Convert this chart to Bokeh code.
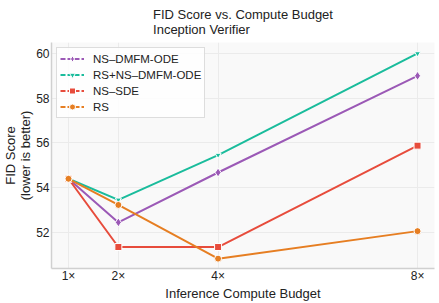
from bokeh.plotting import figure
from bokeh.models import Title, Legend, LegendItem, FixedTicker, Range1d, ColumnDataSource
from bokeh.embed import file_html
from bokeh.resources import INLINE

budgets = [1, 2, 4, 8]
tick_labels = ["1×", "2×", "4×", "8×"]
y_ticks = [52, 54, 56, 58, 60]

title_text = "FID Score vs. Compute Budget"
subtitle_text = "Inception Verifier"
series_names = ["NS–DMFM-ODE", "RS+NS–DMFM-ODE", "NS–SDE", "RS"]
ns_dmfm_ode = [54.4, 52.45, 54.68, 59.0]
rs_ns_dmfm_ode = [54.4, 53.46, 55.46, 60.0]
ns_sde = [54.4, 51.35, 51.35, 55.88]
rs = [54.4, 53.23, 50.83, 52.06]

series_values = [ns_dmfm_ode, rs_ns_dmfm_ode, ns_sde, rs]
colors = ["#9b59b6", "#1abc9c", "#e74c3c", "#e67e22"]
markers = ["diamond", "inverted_triangle", "square", "circle"]
sizes = [9, 6, 7, 7]

FONT = "Liberation Sans"

p = figure(width=439, height=303, output_backend="svg", toolbar_location=None,
           x_range=Range1d(0.659, 8.34), y_range=Range1d(50.39, 60.49),
           min_border_left=51, min_border_right=5, min_border_top=42, min_border_bottom=35)

p.add_layout(Title(text=title_text + "\n" + subtitle_text, align="center",
                   vertical_align="top", text_font=FONT, text_font_size="13px",
                   text_font_style="normal", text_color="#222222",
                   text_line_height=1.0, standoff=8), "above")

p.background_fill_color = "#f9f9f9"
p.border_fill_color = "white"
p.outline_line_color = None

p.xgrid.grid_line_color = "#ebebeb"
p.ygrid.grid_line_color = "#ebebeb"
p.xgrid.grid_line_width = 1
p.ygrid.grid_line_width = 1

p.xaxis.ticker = FixedTicker(ticks=budgets)
p.xaxis.major_label_overrides = {b: t for b, t in zip(budgets, tick_labels)}
p.yaxis.ticker = FixedTicker(ticks=y_ticks)

for ax in (p.xaxis[0], p.yaxis[0]):
    ax.axis_line_color = "#d0d0d0"
    ax.axis_line_width = 1.5
    ax.major_tick_line_color = None
    ax.minor_tick_line_color = None
    ax.major_tick_out = 0
    ax.major_tick_in = 0
    ax.minor_tick_out = 0
    ax.minor_tick_in = 0
    ax.major_label_text_font = FONT
    ax.major_label_text_font_size = "12px"
    ax.major_label_text_color = "#222222"
    ax.axis_label_text_font = FONT
    ax.axis_label_text_font_size = "13px"
    ax.axis_label_text_font_style = "normal"
    ax.axis_label_text_color = "#222222"

p.xaxis.axis_label = "Inference Compute Budget"
p.yaxis.axis_label = "FID Score\n(lower is better)"
p.yaxis.axis_label_text_line_height = 1.0
p.xaxis.major_label_standoff = 0
p.xaxis.axis_label_standoff = 0
p.yaxis.major_label_standoff = 2
p.yaxis.axis_label_standoff = 0

items = []
for name, vals, c, m, s in zip(series_names, series_values, colors, markers, sizes):
    src = ColumnDataSource(dict(x=budgets, y=vals))
    p.line("x", "y", source=src, line_color=c, line_width=2)
    p.scatter("x", "y", source=src, marker=m, size=s, fill_color=c,
              line_color="white", line_width=1)
    # legend-only glyphs, placed outside the visible range
    off = ColumnDataSource(dict(x=[-10, -9], y=[0, 0]))
    lr = p.line("x", "y", source=off, line_color=c, line_width=2, line_dash="5 2")
    sr = p.scatter("x", "y", source=off, marker=m, size=s - 1, fill_color=c,
                   line_color="white", line_width=1)
    items.append(LegendItem(label=name, renderers=[lr, sr]))

legend = Legend(items=items, location="top_left", margin=5, padding=3, spacing=1,
                label_text_font=FONT, label_text_font_size="11.5px",
                label_text_color="#222222", glyph_width=24, glyph_height=15,
                label_height=15, label_standoff=9,
                border_line_color="#bbbbbb", border_line_width=1,
                background_fill_color="white", background_fill_alpha=0.85)
p.add_layout(legend)

open("out.html", "w").write(file_html(p, INLINE))
